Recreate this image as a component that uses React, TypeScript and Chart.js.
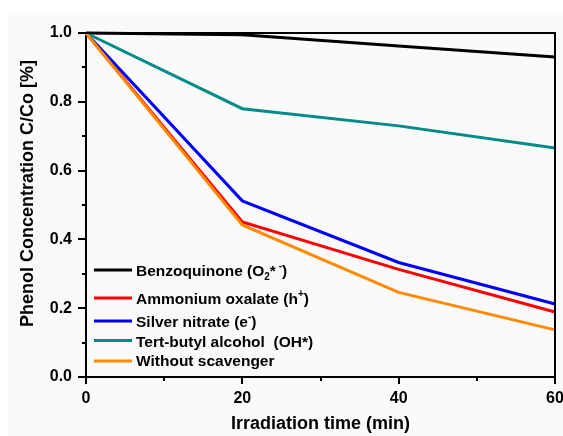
import React, { useEffect, useRef } from 'react';
import { Chart, registerables } from 'chart.js';
Chart.register(...registerables);

// ---- data ----
const times = [0, 20, 40, 60];
const benzoquinone = [1.0, 0.995, 0.962, 0.93];
const ammoniumOxalate = [1.0, 0.451, 0.313, 0.189];
const silverNitrate = [1.0, 0.512, 0.333, 0.212];
const tertButylAlcohol = [1.0, 0.78, 0.73, 0.666];
const withoutScavenger = [1.0, 0.442, 0.246, 0.137];

const seriesNames = [
  'Benzoquinone (O2*-)',
  'Ammonium oxalate (h+)',
  'Silver nitrate (e-)',
  'Tert-butyl alcohol  (OH*)',
  'Without scavenger',
];
// legend rich-text pieces: [text, mode]  mode: n = normal, b = subscript, p = superscript
const legendPieces: [string, string][][] = [
  [['Benzoquinone (O', 'n'], ['2', 'b'], ['*', 'n'], [' -', 'p'], [')', 'n']],
  [['Ammonium oxalate (h', 'n'], ['+', 'p'], [')', 'n']],
  [['Silver nitrate (e', 'n'], ['-', 'p'], [')', 'n']],
  [['Tert-butyl alcohol  (OH*)', 'n']],
  [['Without scavenger', 'n']],
];
const seriesColors = ['#000000', '#ff0000', '#0000ff', '#008b8b', '#ff8a00'];

const xMin = 0, xMax = 60, xMajorStep = 20, xMinorStep = 10;
const yMin = 0, yMax = 1, yMajorStep = 0.2, yMinorStep = 0.1;
const xTitle = 'Irradiation time (min)';
const yTitle = 'Phenol Concentration C/Co [%]';

const FONT = '"Liberation Sans", Arial, sans-serif';

const decorPlugin = {
  id: 'decor',
  afterDraw(chart: any) {
    const { ctx, chartArea: a, scales } = chart;
    const x = scales.x, y = scales.y;
    ctx.save();
    ctx.strokeStyle = '#000';
    ctx.lineWidth = 2;
    ctx.beginPath();
    ctx.moveTo(a.left - 1, a.top);
    ctx.lineTo(a.right, a.top);
    ctx.lineTo(a.right, a.bottom + 1);
    ctx.stroke();
    // ticks
    ctx.beginPath();
    const ny = Math.round((yMax - yMin) / yMinorStep);
    for (let i = 0; i <= ny; i++) {
      const v = yMin + i * yMinorStep;
      const py = Math.round(y.getPixelForValue(v));
      const major = Math.abs(v / yMajorStep - Math.round(v / yMajorStep)) < 1e-6;
      const len = major ? 8 : 4;
      ctx.moveTo(a.left, py);
      ctx.lineTo(a.left - len, py);
    }
    const nx = Math.round((xMax - xMin) / xMinorStep);
    for (let i = 0; i <= nx; i++) {
      const v = xMin + i * xMinorStep;
      const px = Math.round(x.getPixelForValue(v));
      const major = v % xMajorStep === 0;
      const len = major ? 7 : 4;
      ctx.moveTo(px, a.bottom);
      ctx.lineTo(px, a.bottom + len);
    }
    ctx.stroke();

    // axis titles
    ctx.fillStyle = '#000';
    ctx.font = `bold 18px ${FONT}`;
    ctx.textAlign = 'center';
    ctx.textBaseline = 'alphabetic';
    ctx.fillText(xTitle, (a.left + a.right) / 2, 417);
    ctx.save();
    ctx.translate(25, 181.5);
    ctx.rotate(-Math.PI / 2);
    ctx.fillText(yTitle, 0, 0);
    ctx.restore();

    // legend
    const rowLineY = [258, 286, 309, 328.5, 349];
    const rowBase = [263.5, 292, 314.5, 334.5, 354];
    chart.data.datasets.forEach((ds: any, i: number) => {
      ctx.strokeStyle = ds.borderColor;
      ctx.lineWidth = 3;
      ctx.beginPath();
      ctx.moveTo(86, rowLineY[i]);
      ctx.lineTo(124, rowLineY[i]);
      ctx.stroke();
      let tx = 128;
      ctx.textAlign = 'left';
      ctx.fillStyle = '#000';
      for (const [t, m] of legendPieces[i]) {
        let dy = 0;
        if (m === 'n') ctx.font = `bold 15.5px ${FONT}`;
        else {
          ctx.font = `bold 10px ${FONT}`;
          dy = m === 'b' ? 4 : -7;
        }
        ctx.fillText(t, tx, rowBase[i] + dy);
        tx += ctx.measureText(t).width;
      }
    });
    ctx.restore();
  },
};

export default function App() {
  const ref = useRef<HTMLCanvasElement>(null);
  useEffect(() => {
    document.body.style.margin = '0';
    const series = [benzoquinone, ammoniumOxalate, silverNitrate, tertButylAlcohol, withoutScavenger];
    const chart = new Chart(ref.current!, {
      type: 'line',
      data: {
        datasets: series.map((s, i) => ({
          label: seriesNames[i],
          data: times.map((t, j) => ({ x: t, y: s[j] })),
          borderColor: seriesColors[i],
          backgroundColor: seriesColors[i],
          borderWidth: 3,
          pointRadius: 0,
          tension: 0,
          clip: 4,
          order: series.length - i,
        })),
      },
      options: {
        animation: false,
        responsive: false,
        layout: { padding: { top: 21, right: 8, left: 0, bottom: 0 } },
        plugins: { legend: { display: false }, tooltip: { enabled: false } },
        scales: {
          x: {
            type: 'linear',
            min: xMin,
            max: xMax,
            ticks: { stepSize: xMajorStep, color: '#000', font: { family: FONT, size: 16, weight: 'bold' }, padding: 12, maxRotation: 0 },
            grid: { display: false, drawTicks: false },
            border: { display: true, color: '#000', width: 2 },
            afterFit: (s: any) => { s.height = 59; s.paddingLeft = 0; s.paddingRight = 0; },
          },
          y: {
            type: 'linear',
            min: yMin,
            max: yMax,
            ticks: {
              stepSize: yMajorStep,
              color: '#000',
              font: { family: FONT, size: 16, weight: 'bold' },
              padding: 14,
              callback: (v: any) => Number(v).toFixed(1),
            },
            grid: { display: false, drawTicks: false },
            border: { display: true, color: '#000', width: 2 },
            afterFit: (s: any) => { s.width = 78; s.paddingTop = 0; s.paddingBottom = 0; },
          },
        },
      },
      plugins: [decorPlugin],
    } as any);
    return () => chart.destroy();
  }, []);
  return (
    <div style={{ padding: '12px 0 0 8px', width: 555, height: 424 }}>
      <canvas ref={ref} width={555} height={424} style={{ display: 'block', background: '#fafafa' }} />
    </div>
  );
}
